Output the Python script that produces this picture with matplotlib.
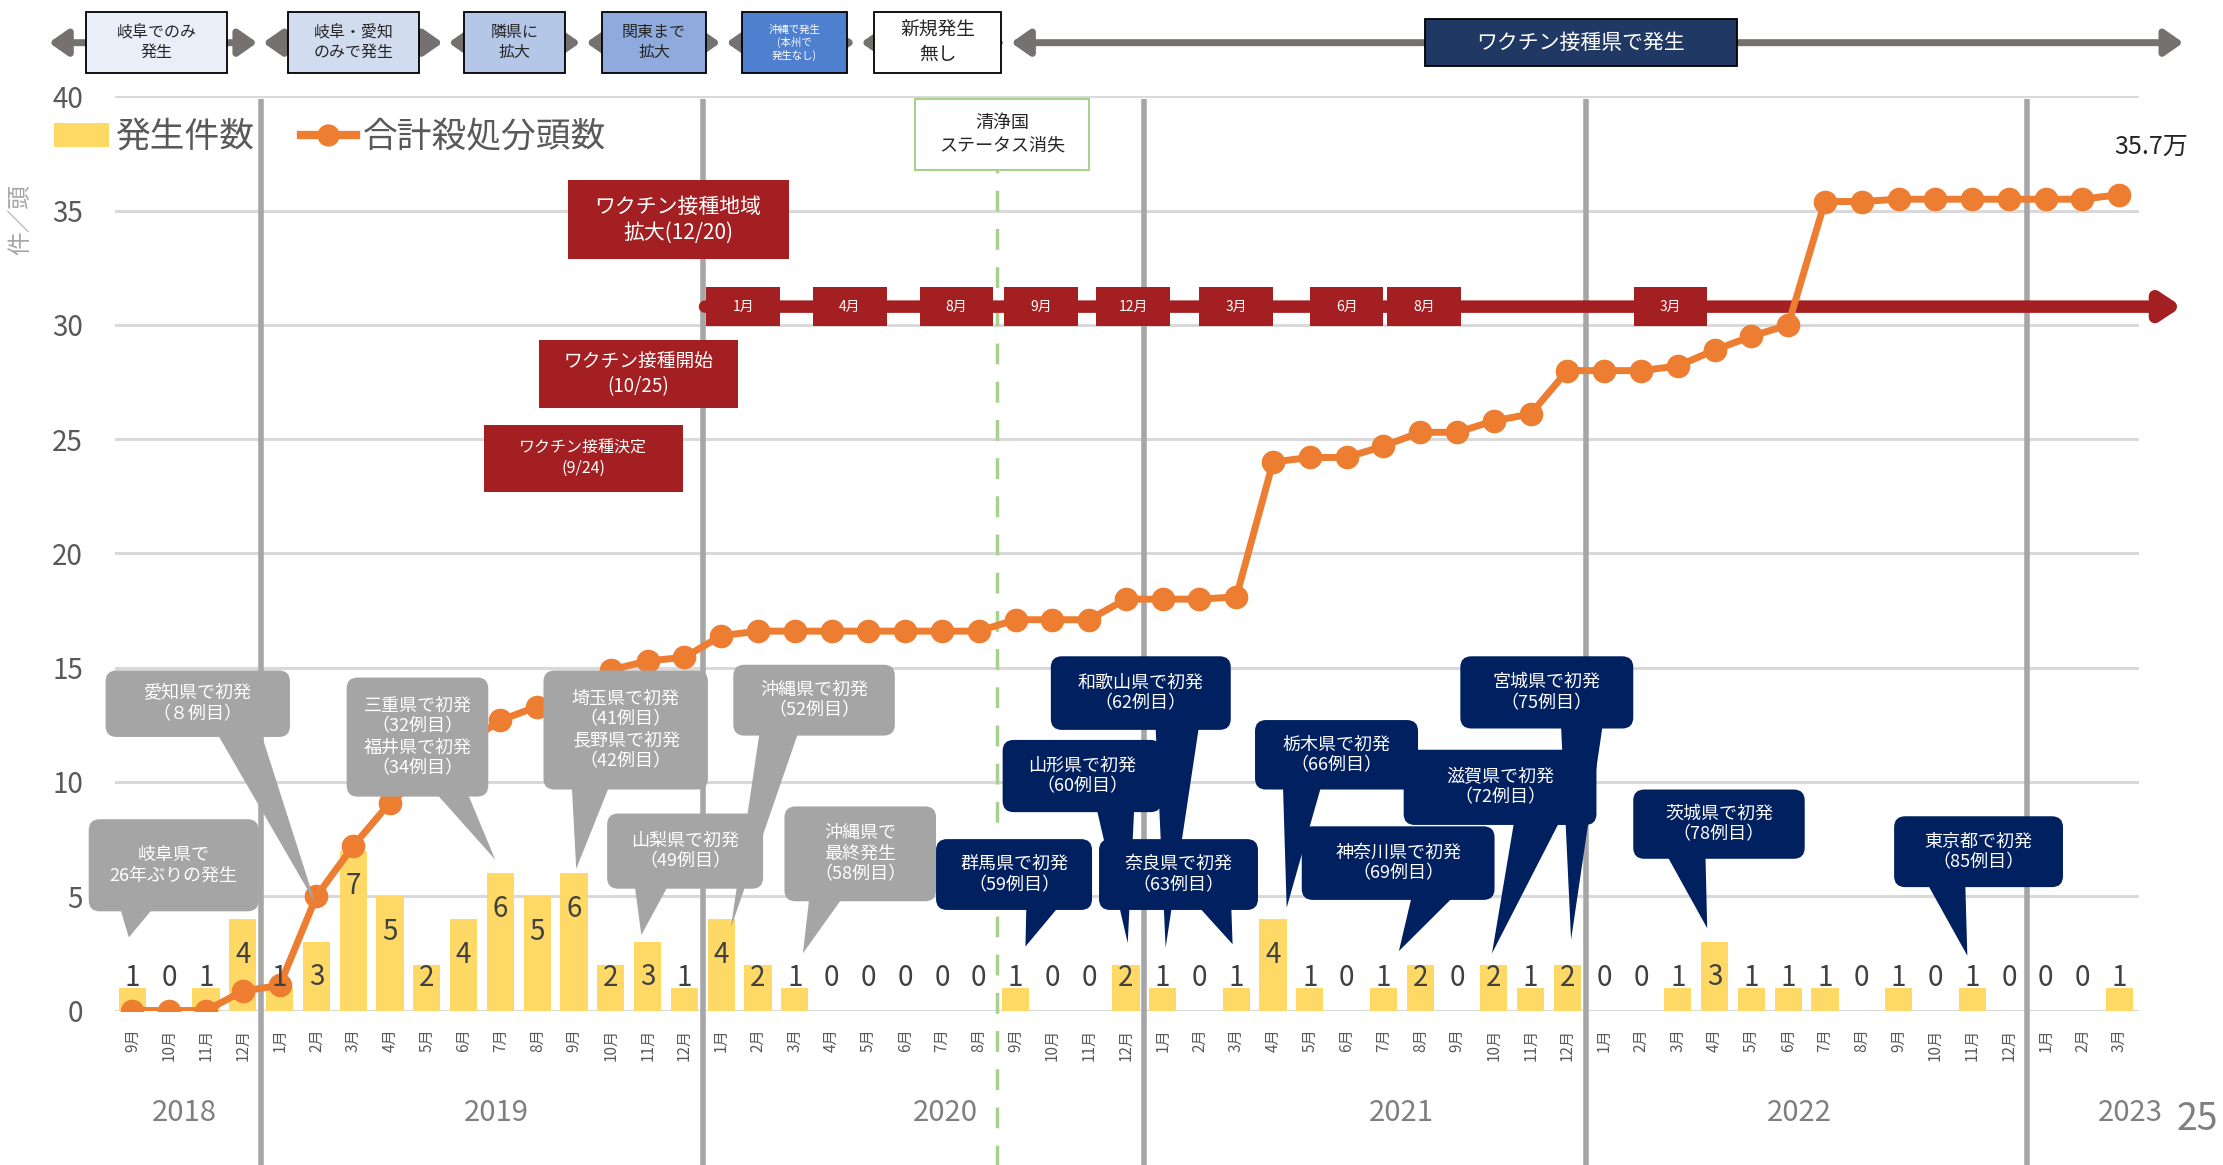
import matplotlib
matplotlib.use('Agg')
import matplotlib.pyplot as plt
from matplotlib.patches import FancyBboxPatch, Polygon, Rectangle, Patch
from matplotlib.lines import Line2D

plt.rcParams['font.family'] = ['Noto Sans CJK JP', 'DejaVu Sans']

# ---------------- data ----------------
months = (['9月', '10月', '11月', '12月']
          + ['1月', '2月', '3月', '4月', '5月', '6月', '7月', '8月', '9月', '10月', '11月', '12月'] * 4
          + ['1月', '2月', '3月'])

# 発生件数 (monthly outbreaks)
outbreaks = [1, 0, 1, 4,
             1, 3, 7, 5, 2, 4, 6, 5, 6, 2, 3, 1,
             4, 2, 1, 0, 0, 0, 0, 0, 1, 0, 0, 2,
             1, 0, 1, 4, 1, 0, 1, 2, 0, 2, 1, 2,
             0, 0, 1, 3, 1, 1, 1, 0, 1, 0, 1, 0,
             0, 0, 1]

# 合計殺処分頭数 (cumulative, 万頭)
culled = [0, 0, 0, 0.85,
          1.1, 5.0, 7.2, 9.1, 10.4, 11.6, 12.7, 13.3, 14.2, 14.9, 15.3, 15.45,
          16.4, 16.6, 16.6, 16.6, 16.6, 16.6, 16.6, 16.6, 17.1, 17.1, 17.1, 18.0,
          18.0, 18.0, 18.1, 24.0, 24.2, 24.2, 24.7, 25.3, 25.3, 25.8, 26.1, 28.0,
          28.0, 28.0, 28.2, 28.9, 29.5, 30.0, 35.4, 35.4, 35.5, 35.5, 35.5, 35.5,
          35.5, 35.5, 35.7]

years = ['2018', '2019', '2020', '2021', '2022', '2023']
year_pos = [1.4, 9.9, 22.1, 34.5, 45.3, 54.3]
year_breaks = [3.5, 15.5, 27.5, 39.5, 51.5]

# top timeline of spread stages
stage_text = ['岐阜でのみ\n発生', '岐阜・愛知\nのみで発生', '隣県に\n拡大', '関東まで\n拡大',
              '沖縄で発生\n(本州で\n発生なし)', '新規発生\n無し', 'ワクチン接種県で発生']
stage_edges = [-2.35, 3.47, 8.51, 12.25, 16.06, 19.72, 23.8, 55.82]
stage_box = [(-1.27, 2.58), (4.24, 7.78), (9.01, 11.75), (12.75, 15.6),
             (16.56, 19.41), (20.15, 23.61), (35.13, 43.61)]
stage_fill = ['#E9EEF8', '#D2DCEF', '#B4C7E7', '#8FAADC', '#4F7FCF', 'white', '#203864']
stage_tc = ['#262626', '#262626', '#262626', '#262626', 'white', '#262626', 'white']
stage_fs = [11.5, 11.5, 11.5, 11.5, 7.5, 13.5, 15]

# vaccination months on the red arrow
vac_months = ['1月', '4月', '8月', '9月', '12月', '3月', '6月', '8月', '3月']
vac_pos = [16.6, 19.5, 22.4, 24.7, 27.2, 30.0, 33.0, 35.1, 41.8]

# red event boxes: text, x-center, y-center, width, height, fontsize
events = [('ワクチン接種地域\n拡大(12/20)', 14.83, 34.6, 6.0, 3.47, 15),
          ('ワクチン接種開始\n(10/25)', 13.75, 27.85, 5.4, 2.98, 13.5),
          ('ワクチン接種決定\n(9/24)', 12.25, 24.15, 5.4, 2.9, 11.5)]

GRAY_C = '#A5A5A5'
NAVY_C = '#002060'
# callouts: text, box (l, r, b, t), tip (x, y), tail side, color
callouts = [
    ('岐阜県で\n26年ぶりの発生', (-1.19, 3.43, 4.34, 8.37), (-0.1, 3.2), 'L', GRAY_C),
    ('愛知県で初発\n（８例目）', (-0.73, 4.28, 11.97, 14.88), (4.97, 4.7), 'R', GRAY_C),
    ('三重県で初発\n（32例目）\n福井県で初発\n（34例目）', (5.82, 9.67, 9.36, 14.57), (9.86, 6.6), 'R', GRAY_C),
    ('埼玉県で初発\n（41例目）\n長野県で初発\n（42例目）', (11.17, 15.64, 9.67, 14.88), (12.06, 6.2), 'L', GRAY_C),
    ('沖縄県で初発\n（52例目）', (16.33, 20.72, 12.03, 15.13), (16.26, 3.6), 'L', GRAY_C),
    ('山梨県で初発\n（49例目）', (12.9, 17.14, 5.33, 8.62), (13.83, 3.3), 'L', GRAY_C),
    ('沖縄県で\n最終発生\n（58例目）', (17.72, 21.84, 4.78, 8.93), (18.22, 2.5), 'L', GRAY_C),
    ('和歌山県で初発\n（62例目）', (24.96, 29.85, 12.28, 15.5), (28.08, 2.75), 'R', NAVY_C),
    ('山形県で初発\n（60例目）', (23.65, 27.97, 8.68, 11.84), (27.05, 2.95), 'R', NAVY_C),
    ('群馬県で初発\n（59例目）', (21.84, 26.08, 4.4, 7.5), (24.27, 2.8), 'R', NAVY_C),
    ('奈良県で初発\n（63例目）', (26.27, 30.59, 4.4, 7.5), (29.9, 2.9), 'R', NAVY_C),
    ('栃木県で初発\n（66例目）', (30.51, 34.94, 9.67, 12.71), (31.37, 4.5), 'L', NAVY_C),
    ('神奈川県で初発\n（69例目）', (31.78, 37.02, 4.84, 8.06), (34.42, 2.6), 'R', NAVY_C),
    ('滋賀県で初発\n（72例目）', (34.55, 39.79, 8.12, 11.41), (36.95, 2.5), 'R', NAVY_C),
    ('宮城県で初発\n（75例目）', (36.09, 40.79, 12.34, 15.5), (39.1, 3.1), 'R', NAVY_C),
    ('茨城県で初発\n（78例目）', (40.79, 45.45, 6.64, 9.67), (42.8, 3.6), 'L', NAVY_C),
    ('東京都で初発\n（85例目）', (47.88, 52.47, 5.4, 8.5), (49.87, 2.4), 'L', NAVY_C),
]

# ---------------- figure ----------------
fig = plt.figure(figsize=(22.23, 11.65), dpi=100)
ax = fig.add_axes([81 / 1568, 109 / 822, 1427.6 / 1568, 645 / 822])
ax.set_xlim(-0.48, 54.53)
ax.set_ylim(0, 40)
for s in ax.spines.values():
    s.set_visible(False)

ax.set_yticks(range(0, 41, 5))
ax.yaxis.grid(True, color='#D9D9D9', lw=2.2, zorder=0)
ax.set_axisbelow(True)
ax.tick_params(axis='y', length=0, pad=23, labelsize=20, labelcolor='#595959')
x = list(range(len(months)))
ax.set_xticks(x, months, rotation=90, fontsize=11, color='#595959')
ax.tick_params(axis='x', length=0, pad=13)

RED = '#A31F22'

# year separators and green dashed line
ax.vlines(year_breaks, -7, 39.9, color='#A6A6A6', lw=4, zorder=1, clip_on=False)
ax.vlines([23.5], -7, 36.8, color='#A9D18E', lw=2.5, linestyles=(0, (6, 5)), zorder=1, clip_on=False)

# bars + line
ax.bar(x, outbreaks, width=0.74, color='#FFD966', zorder=2)
ax.plot(x, culled, color='#ED7D31', lw=5, marker='o', ms=16, zorder=3, solid_capstyle='round')

for i, v in enumerate(outbreaks):
    ax.text(i, max(v - 1.55, 1.42), str(v), ha='center', va='center',
            fontsize=20, color='#404040', zorder=4)

# red vaccination arrow
ax.annotate('', xy=(55.7, 30.8), xytext=(15.56, 30.8), annotation_clip=False,
            arrowprops=dict(arrowstyle='-|>,head_length=0.45,head_width=0.3', lw=9,
                            color=RED, shrinkA=0, shrinkB=0, mutation_scale=25), zorder=2.5)
for lab, p in zip(vac_months, vac_pos):
    ax.add_patch(Rectangle((p - 1.0, 30.8 - 0.84), 2.0, 1.68, fc=RED, ec='none', zorder=2.6, clip_on=False))
    ax.text(p, 30.8, lab, ha='center', va='center', color='white', fontsize=10, zorder=2.7)

for txt, cx, cy, w, h, fs in events:
    ax.add_patch(Rectangle((cx - w / 2, cy - h / 2), w, h, fc=RED, ec='none', zorder=5, clip_on=False))
    ax.text(cx, cy, txt, ha='center', va='center', color='white', fontsize=fs,
            linespacing=1.25, zorder=6)

# 清浄国ステータス消失
ax.add_patch(Rectangle((21.26, 36.8), 4.74, 3.1, fc='white', ec='#A9D18E', lw=1.5, zorder=5, clip_on=False))
ax.text(23.63, 38.35, '清浄国\nステータス消失', ha='center', va='center', fontsize=13,
        color='#262626', linespacing=1.3, zorder=6)

# callouts
for txt, (l, r, b, t), tip, side, col in callouts:
    w = r - l
    f0, f1 = (0.17, 0.42) if side == 'L' else (0.58, 0.83)
    ax.add_patch(Polygon([(l + f0 * w, b + 0.5), (l + f1 * w, b + 0.5), tip], closed=True,
                         fc=col, ec='none', zorder=5, clip_on=False))
    ax.add_patch(FancyBboxPatch((l, b), w, t - b, boxstyle='round,pad=0,rounding_size=0.3',
                                mutation_aspect=1.6, fc=col, ec='none', zorder=5, clip_on=False))
    ax.text((l + r) / 2, (b + t) / 2, txt, ha='center', va='center', color='white',
            fontsize=13, linespacing=1.2, zorder=6)

# top timeline
TY = 42.35
for x0, x1 in zip(stage_edges[:-1], stage_edges[1:]):
    ax.annotate('', xy=(x1 - 0.08, TY), xytext=(x0 + 0.08, TY), annotation_clip=False,
                arrowprops=dict(arrowstyle='<|-|>,head_length=0.5,head_width=0.35', lw=5,
                                color='#767171', shrinkA=0, shrinkB=0, mutation_scale=22))
for i, ((l, r), txt) in enumerate(zip(stage_box, stage_text)):
    h = 2.05 if i == 6 else 2.67
    ax.add_patch(Rectangle((l, TY - h / 2), r - l, h, fc=stage_fill[i], ec='black', lw=1.3,
                           zorder=5, clip_on=False))
    ax.text((l + r) / 2, TY, txt, ha='center', va='center', color=stage_tc[i],
            fontsize=stage_fs[i], linespacing=1.2, zorder=6)

# year labels
for yl, yp in zip(years, year_pos):
    ax.text(yp, -4.5, yl, ha='center', va='center', fontsize=21, color='#7F7F7F', clip_on=False)

# end value
ax.text(54.86, 37.8, '35.7万', ha='center', va='center', fontsize=18, color='#262626', clip_on=False)

# legend
fig.legend(handles=[Patch(fc='#FFD966', ec='none'),
                    Line2D([], [], color='#ED7D31', lw=6, marker='o', ms=15)],
           labels=['発生件数', '合計殺処分頭数'], loc='center left',
           bbox_to_anchor=(38 / 1568, 1 - 97 / 822), ncol=2, frameon=False, fontsize=25,
           handlelength=1.6, handleheight=0.7, handletextpad=0.2, columnspacing=1.3,
           borderaxespad=0, borderpad=0, labelcolor='#595959')

fig.text(15 / 1568, 1 - 155 / 822, '件／頭', rotation=90, ha='center', va='center',
         fontsize=17, color='#A6A6A6')
fig.text(1550 / 1568, 1 - 790 / 822, '25', ha='center', va='center', fontsize=27, color='#7F7F7F')

fig.savefig('out.png', dpi=100)
